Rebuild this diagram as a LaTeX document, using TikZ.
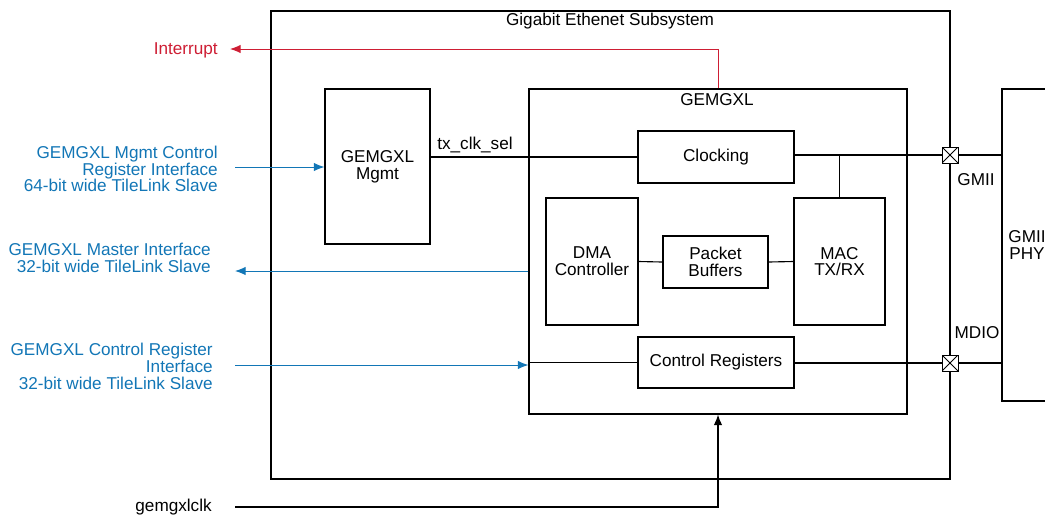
\documentclass[tikz,border=0pt]{standalone}
\usepackage{fontspec}
\setmainfont{Liberation Sans}
\usepackage{tikz}
\usetikzlibrary{calc}
\usetikzlibrary{arrows.meta}
\usepackage{xcolor}
\definecolor{ifblue}{RGB}{18,118,182}
\definecolor{irqred}{RGB}{206,30,52}
\def\px{0.025cm}

\begin{document}
\begin{tikzpicture}[x=0.025cm,y=-0.025cm,font=\fontsize{12.2}{11.9}\selectfont]
				    \tikzstyle{edge}=[draw,line width = .8pt,-,black!100]
				    \tikzstyle{tip}=[-{Latex[length=7.5pt,width=6pt]}]
				    \tikzstyle{block}=[draw,line width = .8pt,rectangle,align=center,inner sep=0pt]
				    \tikzstyle{bus}=[draw,line width = .7pt,ifblue,tip]
				    \tikzstyle{label}=[align=right,anchor=east,text=ifblue,inner sep=0pt]
				    \tikzstyle{pad}=[draw,line width = .6pt,fill=white,minimum size=16*\px,inner sep=0pt,
				        path picture={\draw (path picture bounding box.north west) -- (path picture bounding box.south east)
				        (path picture bounding box.south west) -- (path picture bounding box.north east);}]
				    \useasboundingbox (0,0) rectangle (1045,516);
				    % containers
				    \node[block,minimum width=679*\px,minimum height=468*\px] (sub) at (610.5,245) {};
				    \node (subl) at (610,21) {Gigabit Ethenet Subsystem};
				    \node[block,minimum width=378*\px,minimum height=325*\px] (gem) at (718,251.5) {};
				    \node (geml) at (717,100) {GEMGXL};
				    \node[block,minimum width=105*\px,minimum height=155*\px] (mgmt) at (377.5,166.5) {GEMGXL\\Mgmt};
				    \node[block,minimum width=50*\px,minimum height=312*\px] (phy) at (1027,245) {GMII\\PHY};
				    % inside GEMGXL
				    \node[block,minimum width=156*\px,minimum height=52*\px] (clk) at (716,157) {Clocking};
				    \node[block,minimum width=92*\px,minimum height=127*\px] (dma) at (592,261.5) {DMA\\Controller};
				    \node[block,minimum width=105*\px,minimum height=52*\px] (buf) at (715.5,262) {Packet\\Buffers};
				    \node[block,minimum width=91*\px,minimum height=127*\px] (mac) at (839.5,261.5) {MAC\\TX/RX};
				    \node[block,minimum width=156*\px,minimum height=51*\px] (ctl) at (716,362.5) {Control Registers};
				    % internal edges
				    \coordinate (xgc) at (950,155);
				    \coordinate (xmc) at (950,363);
				    \draw[edge] (mgmt.east |- clk.west) -- (clk.west);
				    \node (txl) at (475,145) {tx\_clk\_sel};
				    \draw[edge] (clk.east |- xgc) -- (xgc) -- (xgc -| phy.west);
				    \draw[edge] (mac.north) -- (mac.north |- xgc);
				    \draw[edge] (ctl.east |- xmc) -- (xmc) -- (xmc -| phy.west);
				    \draw[edge] (gem.west |- ctl.west) -- (ctl.west);
				    \draw[edge] (dma.east) -- (buf.west);
				    \draw[edge] (buf.east) -- (mac.west);
				    \node[pad] (xg) at (xgc) {};
				    \node[pad] (xm) at (xmc) {};
				    \node (gmiil) at (976,180) {GMII};
				    \node (mdiol) at (977,333) {MDIO};
				    % interfaces
				    \node[label] (ifa) at (218,169) {GEMGXL Mgmt Control\\Register Interface\\64-bit wide TileLink Slave};
				    \node[label] (ifb) at (211,257.5) {GEMGXL Master Interface\\32-bit wide TileLink Slave};
				    \node[label] (ifc) at (213,366.5) {GEMGXL Control Register\\Interface\\32-bit wide TileLink Slave};
				    \coordinate (ina) at (235,167);
				    \coordinate (inb) at (235,271);
				    \coordinate (inc) at (235,365);
				    \draw[bus] (ina) -- (ina -| mgmt.west);
				    \draw[bus] (inb -| gem.west) -- (inb);
				    \draw[bus] (inc) -- (inc -| gem.west);
				    % interrupt and clock
				    \node[text=irqred,anchor=east,inner sep=0pt] (irql) at (218,50) {Interrupt};
				    \coordinate (irq) at (230,49);
				    \draw[line width = .7pt,irqred,tip] (gem.north) |- (irq);
				    \node[anchor=east,inner sep=0pt] (clkl) at (212,507) {gemgxlclk};
				    \coordinate (clkin) at (235,507);
				    \draw[edge,tip] (clkin) -| (gem.south);
				\end{tikzpicture}
\end{document}
